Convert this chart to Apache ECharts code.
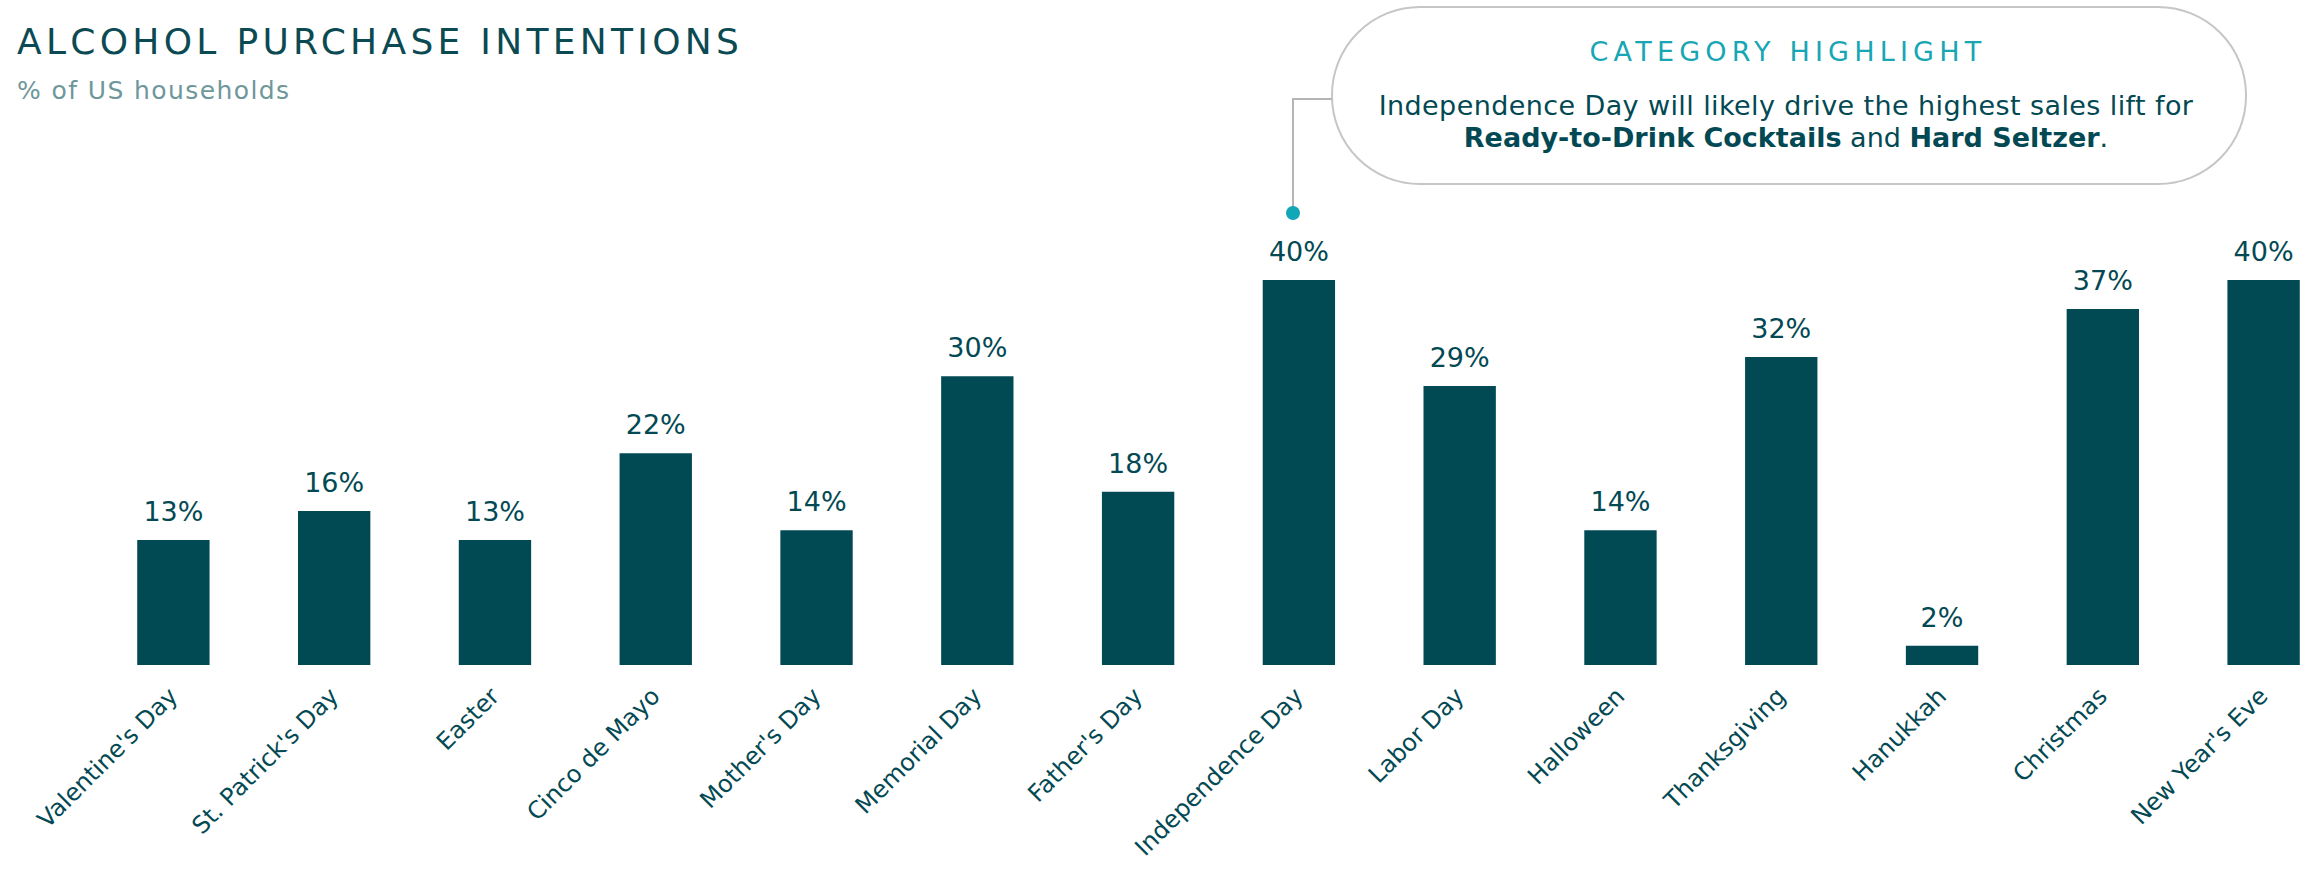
<!DOCTYPE html>
<html><head><meta charset="utf-8">
<script src="https://cdn.jsdelivr.net/npm/echarts@6/dist/echarts.min.js"></script>
<style>html,body{margin:0;padding:0;background:#fff}#c{width:2323px;height:871px}</style>
</head><body><div id="c"></div>
<script>
const categories = ["Valentine's Day","St. Patrick's Day","Easter","Cinco de Mayo","Mother's Day","Memorial Day","Father's Day","Independence Day","Labor Day","Halloween","Thanksgiving","Hanukkah","Christmas","New Year's Eve"];
const values = [13,16,13,22,14,30,18,40,29,14,32,2,37,40];
const titleText = "ALCOHOL PURCHASE INTENTIONS";
const subtitleText = "% of US households";
const highlightTitle = "CATEGORY HIGHLIGHT";
const highlightLine1 = "Independence Day will likely drive the highest sales lift for";
const highlightCategory = "Independence Day";

const DARK = '#034953';
const FONT = '"DejaVu Sans"';
const chart = echarts.init(document.getElementById('c'), null, {renderer: 'svg'});
const baseGraphic = [
  {type: 'text', x: 17, y: 41, style: {text: titleText, fill: '#0b4a52', font: '400 36px ' + FONT, textVerticalAlign: 'middle'}},
  {type: 'text', x: 17, y: 90, style: {text: subtitleText, fill: '#6e979b', font: '400 25px ' + FONT, textVerticalAlign: 'middle'}},
  {type: 'rect', shape: {x: 1332, y: 7, width: 914, height: 177, r: 88}, style: {fill: '#fff', stroke: '#c6c6c6', lineWidth: 2}},
  {type: 'text', x: 1788, y: 51, style: {text: highlightTitle, fill: '#17a6b4', font: '400 27px ' + FONT, textAlign: 'center', textVerticalAlign: 'middle'}},
  {type: 'text', x: 1786, y: 105, style: {text: highlightLine1, fill: DARK, font: '400 27px ' + FONT, textAlign: 'center', textVerticalAlign: 'middle'}},
  {type: 'text', x: 1786, y: 137, style: {
    text: '{b|Ready-to-Drink Cocktails}{n| and }{b|Hard Seltzer}{n|.}',
    textAlign: 'center', textVerticalAlign: 'middle',
    rich: {b: {fill: DARK, font: '700 27px ' + FONT}, n: {fill: DARK, font: '400 27px ' + FONT}}
  }}
];
const option = {
  animation: false,
  backgroundColor: '#fff',
  grid: {left: 93, width: 2251, top: 280, bottom: 206, containLabel: false, outerBoundsMode: 'none'},
  xAxis: {
    type: 'category', data: categories,
    axisLine: {show: false}, axisTick: {show: false},
    axisLabel: {rotate: 45, interval: 0, margin: 27, color: DARK, fontSize: 24, fontFamily: FONT}
  },
  yAxis: {type: 'value', min: 0, max: 40, show: false, splitLine: {show: false}},
  series: [{
    type: 'bar', data: values, barCategoryGap: '55%',
    itemStyle: {color: '#024a53'},
    label: {show: true, position: 'top', distance: 15, formatter: '{c}%', color: DARK, fontSize: 27, fontFamily: FONT}
  }],
  graphic: baseGraphic
};
chart.setOption(option);
const idx = categories.indexOf(highlightCategory);
const px = Math.round(chart.convertToPixel({xAxisIndex: 0}, categories[idx])) - 6;
chart.setOption({graphic: baseGraphic.concat([
  {type: 'polyline', shape: {points: [[1332, 99], [px, 99], [px, 213]]}, style: {stroke: '#b5b5b5', lineWidth: 2, fill: null}},
  {type: 'circle', shape: {cx: px, cy: 213, r: 7}, style: {fill: '#12a7b6'}}
])});
function spacing() {
  document.querySelectorAll('#c svg text').forEach(t => {
    const s = t.textContent;
    if (s === titleText) t.style.letterSpacing = '4.3px';
    else if (s === highlightTitle) t.style.letterSpacing = '5.2px';
    else if (s === subtitleText) t.style.letterSpacing = '1.4px';
    else if (s === highlightLine1) t.style.letterSpacing = '0.4px';
  });
}
chart.on('finished', spacing);
spacing();
setTimeout(spacing, 50);
</script></body></html>
